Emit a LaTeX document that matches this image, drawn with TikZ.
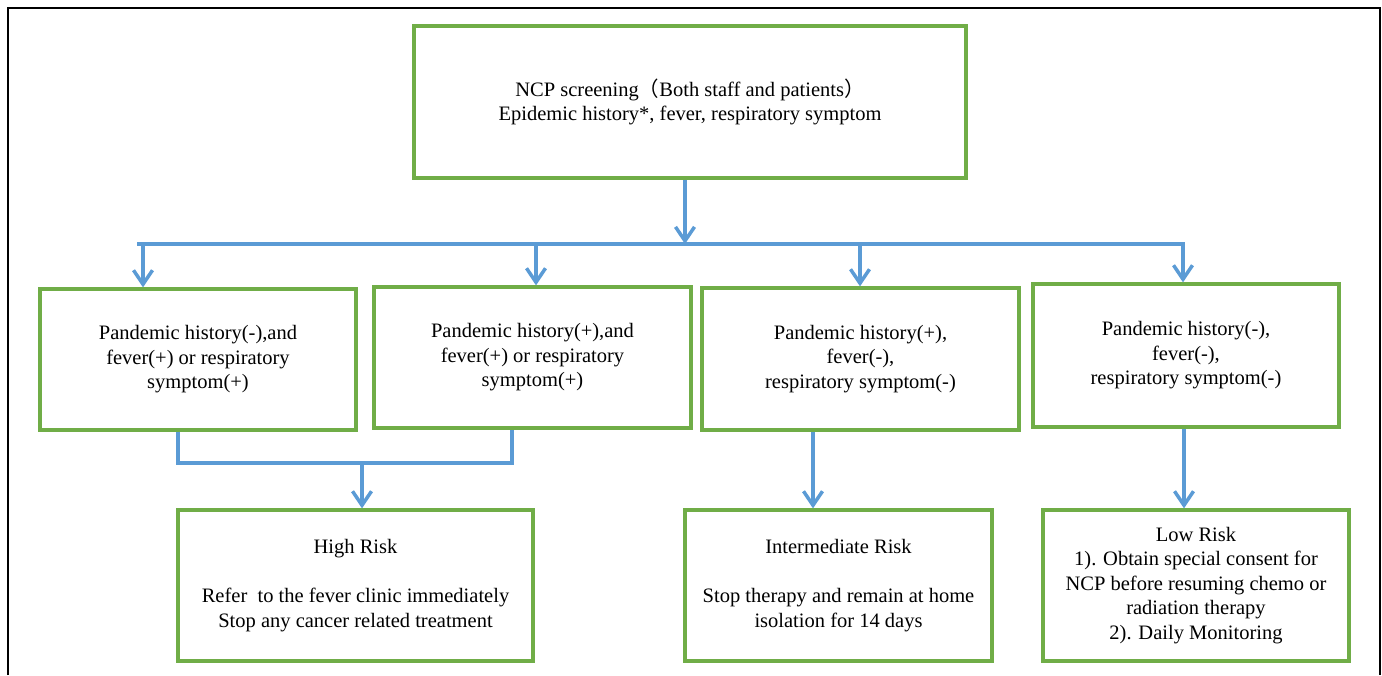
\documentclass[tikz,border=0pt]{standalone}
\usepackage{fontspec}
\setmainfont{Liberation Serif}
\newfontfamily\serifx{Liberation Serif}
\newfontfamily\cjk{Noto Sans CJK SC}
\usetikzlibrary{arrows.meta}
\definecolor{boxgreen}{HTML}{70AD47}
\definecolor{linkblue}{HTML}{5B9BD5}
\begin{document}
\begin{tikzpicture}[x=1pt,y=-1pt,
  box/.style={draw=boxgreen,line width=3.3pt,align=center,inner sep=0pt,
    font=\serifx\fontsize{20.5}{24.5}\selectfont},
  link/.style={draw=linkblue,line width=3.5pt},
  arr/.style={link,-{Straight Barb[length=14pt,width=19pt,line width=3.5pt]}}]
\useasboundingbox (0,0) rectangle (1382,675);
\draw[line width=2pt] (7.5,675) -- (7.5,8) -- (1380,8) -- (1380,675);

\node[box,minimum width=552pt,minimum height=152pt] (top) at (690,102)
  {NCP screening{\cjk （}Both staff and patients{\cjk ）}\\Epidemic history*, fever, respiratory symptom};
\node[box,minimum width=316pt,minimum height=141pt] (b1) at (198,359.5)
  {Pandemic history(-),and\\fever(+) or respiratory\\symptom(+)};
\node[box,minimum width=317pt,minimum height=141pt] (b2) at (532.5,357.5)
  {Pandemic history(+),and\\fever(+) or respiratory\\symptom(+)};
\node[box,minimum width=317pt,minimum height=142pt] (b3) at (860.5,359)
  {Pandemic history(+),\\fever(-),\\respiratory symptom(-)};
\node[box,minimum width=306pt,minimum height=143pt] (b4) at (1186,355.5)
  {Pandemic history(-),\\fever(-),\\respiratory symptom(-)};
\node[box,minimum width=355pt,minimum height=151pt] (b5) at (355.5,585.5)
  {High Risk\\[24.5pt]Refer\ \ to the fever clinic immediately\\Stop any cancer related treatment};
\node[box,minimum width=307pt,minimum height=151pt] (b6) at (838.5,585.5)
  {Intermediate Risk\\[24.5pt]Stop therapy and remain at home\\isolation for 14 days};
\node[box,minimum width=306pt,minimum height=151pt] (b7) at (1196,585.5)
  {Low Risk\\1). Obtain special consent for\\NCP before resuming chemo or\\radiation therapy\\2). Daily Monitoring};

\coordinate (bus) at (685,244);
\coordinate (busL) at (137,244);
\coordinate (d1) at (143,244);
\coordinate (d2) at (536,244);
\coordinate (d3) at (860,244);
\coordinate (d4) at (1183,244);
\draw[arr] (top.south -| bus) -- (bus);
\draw[arr] (busL) -- (d4) -- (d4 |- b4.north);
\draw[arr] (d1) -- (d1 |- b1.north);
\draw[arr] (d2) -- (d2 |- b2.north);
\draw[arr] (d3) -- (d3 |- b3.north);

\coordinate (jL) at (178,463);
\coordinate (jR) at (512,463);
\coordinate (jM) at (362,463);
\draw[link] (jL |- b1.south) -- (jL) -- (jR) -- (jR |- b2.south);
\draw[arr] (jM) -- (jM |- b5.north);

\coordinate (a3) at (813,0);
\coordinate (a4) at (1184,0);
\draw[arr] (a3 |- b3.south) -- (a3 |- b6.north);
\draw[arr] (a4 |- b4.south) -- (a4 |- b7.north);
\end{tikzpicture}
\end{document}
